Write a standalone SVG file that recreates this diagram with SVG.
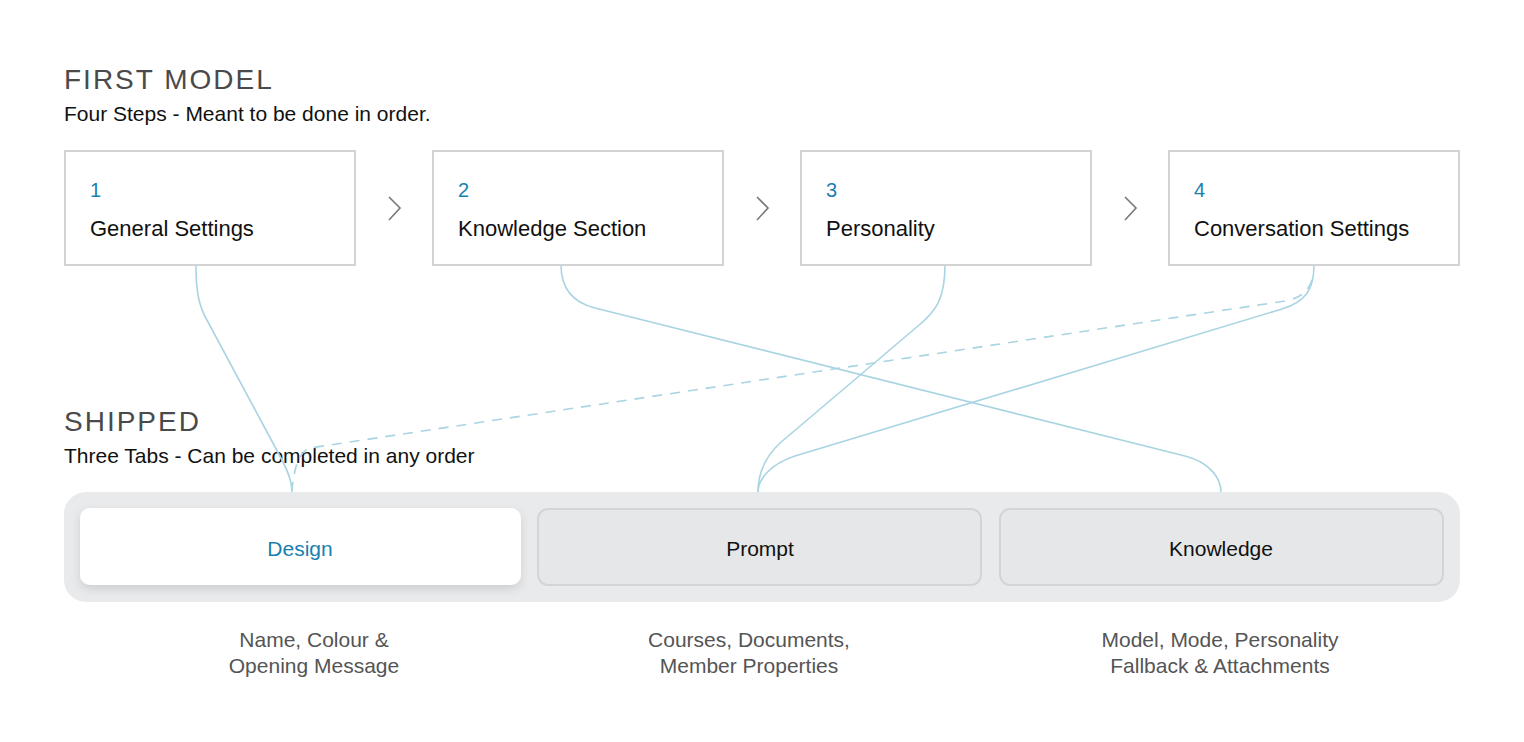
<svg xmlns="http://www.w3.org/2000/svg" width="1524" height="742" viewBox="0 0 1524 742">
<defs>
<style>
text{font-family:"Liberation Sans",Arial,sans-serif}
.h{font-size:28px;fill:#4a4a4a;letter-spacing:2px}
.s{font-size:21px;fill:#111}
.box{fill:#fff;stroke:#d3d3d3;stroke-width:2}
.n{font-size:20px;fill:#1a7fb0}
.l{font-size:22px;fill:#111}
.chev{fill:none;stroke:#777;stroke-width:1.6}
.c{fill:none;stroke:#a9d4e2;stroke-width:1.6}
.tab{fill:#e6e7e8;stroke:#d3d4d5;stroke-width:2}
.t{font-size:21px;fill:#111;text-anchor:middle}
.d{font-size:21px;fill:#555;text-anchor:middle}
</style>
<filter id="sh" x="-10%" y="-30%" width="120%" height="160%"><feDropShadow dx="0" dy="4" stdDeviation="5" flood-color="#000" flood-opacity="0.12"/></filter>
</defs>
<rect width="1524" height="742" fill="#fff"/>
<text class="h" x="64" y="89">FIRST MODEL</text>
<text class="s" x="64" y="121">Four Steps - Meant to be done in order.</text>
<text class="h" x="64" y="431">SHIPPED</text>
<text class="s" x="64" y="463">Three Tabs - Can be completed in any order</text>
<rect x="64" y="492" width="1396" height="110" rx="22" fill="#e9eaeb"/>
<g id="connectors">
<path class="c" d="M196 265 C196 290 198 305 208 322 L282 460 C290 475 292 485 292 492"/>
<path class="c" d="M561 265 C561 290 575 303 595 308 L1185 456 C1212 463 1221 480 1221 492"/>
<path class="c" d="M945 265 C945 300 935 312 918 326 L780 443 C764 458 758 475 758 492"/>
<path class="c" d="M1314 265 C1314 290 1305 302 1282 309 L795 456 C770 464 758 480 758 492"/>
<path class="c" stroke-dasharray="10 8" d="M1312 280 C1308 292 1300 298 1285 301 L310 448 C298 452 294 470 292 490"/>
</g>
<g id="step1"><rect class="box" x="65" y="151" width="290" height="114"/><text class="n" x="90" y="197">1</text><text class="l" x="90" y="236">General Settings</text></g>
<g id="step2"><rect class="box" x="433" y="151" width="290" height="114"/><text class="n" x="458" y="197">2</text><text class="l" x="458" y="236">Knowledge Section</text></g>
<g id="step3"><rect class="box" x="801" y="151" width="290" height="114"/><text class="n" x="826" y="197">3</text><text class="l" x="826" y="236">Personality</text></g>
<g id="step4"><rect class="box" x="1169" y="151" width="290" height="114"/><text class="n" x="1194" y="197">4</text><text class="l" x="1194" y="236">Conversation Settings</text></g>
<g id="chevrons">
<path class="chev" d="M389 197 L400 208 L389 220"/>
<path class="chev" d="M757 197 L768 208 L757 220"/>
<path class="chev" d="M1125 197 L1136 208 L1125 220"/>
</g>
<g id="design"><rect x="80" y="508" width="441" height="77" rx="10" fill="#fff" filter="url(#sh)"/><text class="t" x="300" y="556" fill="#1a7fb0" style="fill:#1a7fb0">Design</text></g>
<g id="prompt"><rect class="tab" x="538" y="509" width="443" height="76" rx="10"/><text class="t" x="760" y="556">Prompt</text></g>
<g id="knowledge"><rect class="tab" x="1000" y="509" width="443" height="76" rx="10"/><text class="t" x="1221" y="556">Knowledge</text></g>
<text class="d" x="314" y="647">Name, Colour &amp;</text>
<text class="d" x="314" y="673">Opening Message</text>
<text class="d" x="749" y="647">Courses, Documents,</text>
<text class="d" x="749" y="673">Member Properties</text>
<text class="d" x="1220" y="647">Model, Mode, Personality</text>
<text class="d" x="1220" y="673">Fallback &amp; Attachments</text>
</svg>
